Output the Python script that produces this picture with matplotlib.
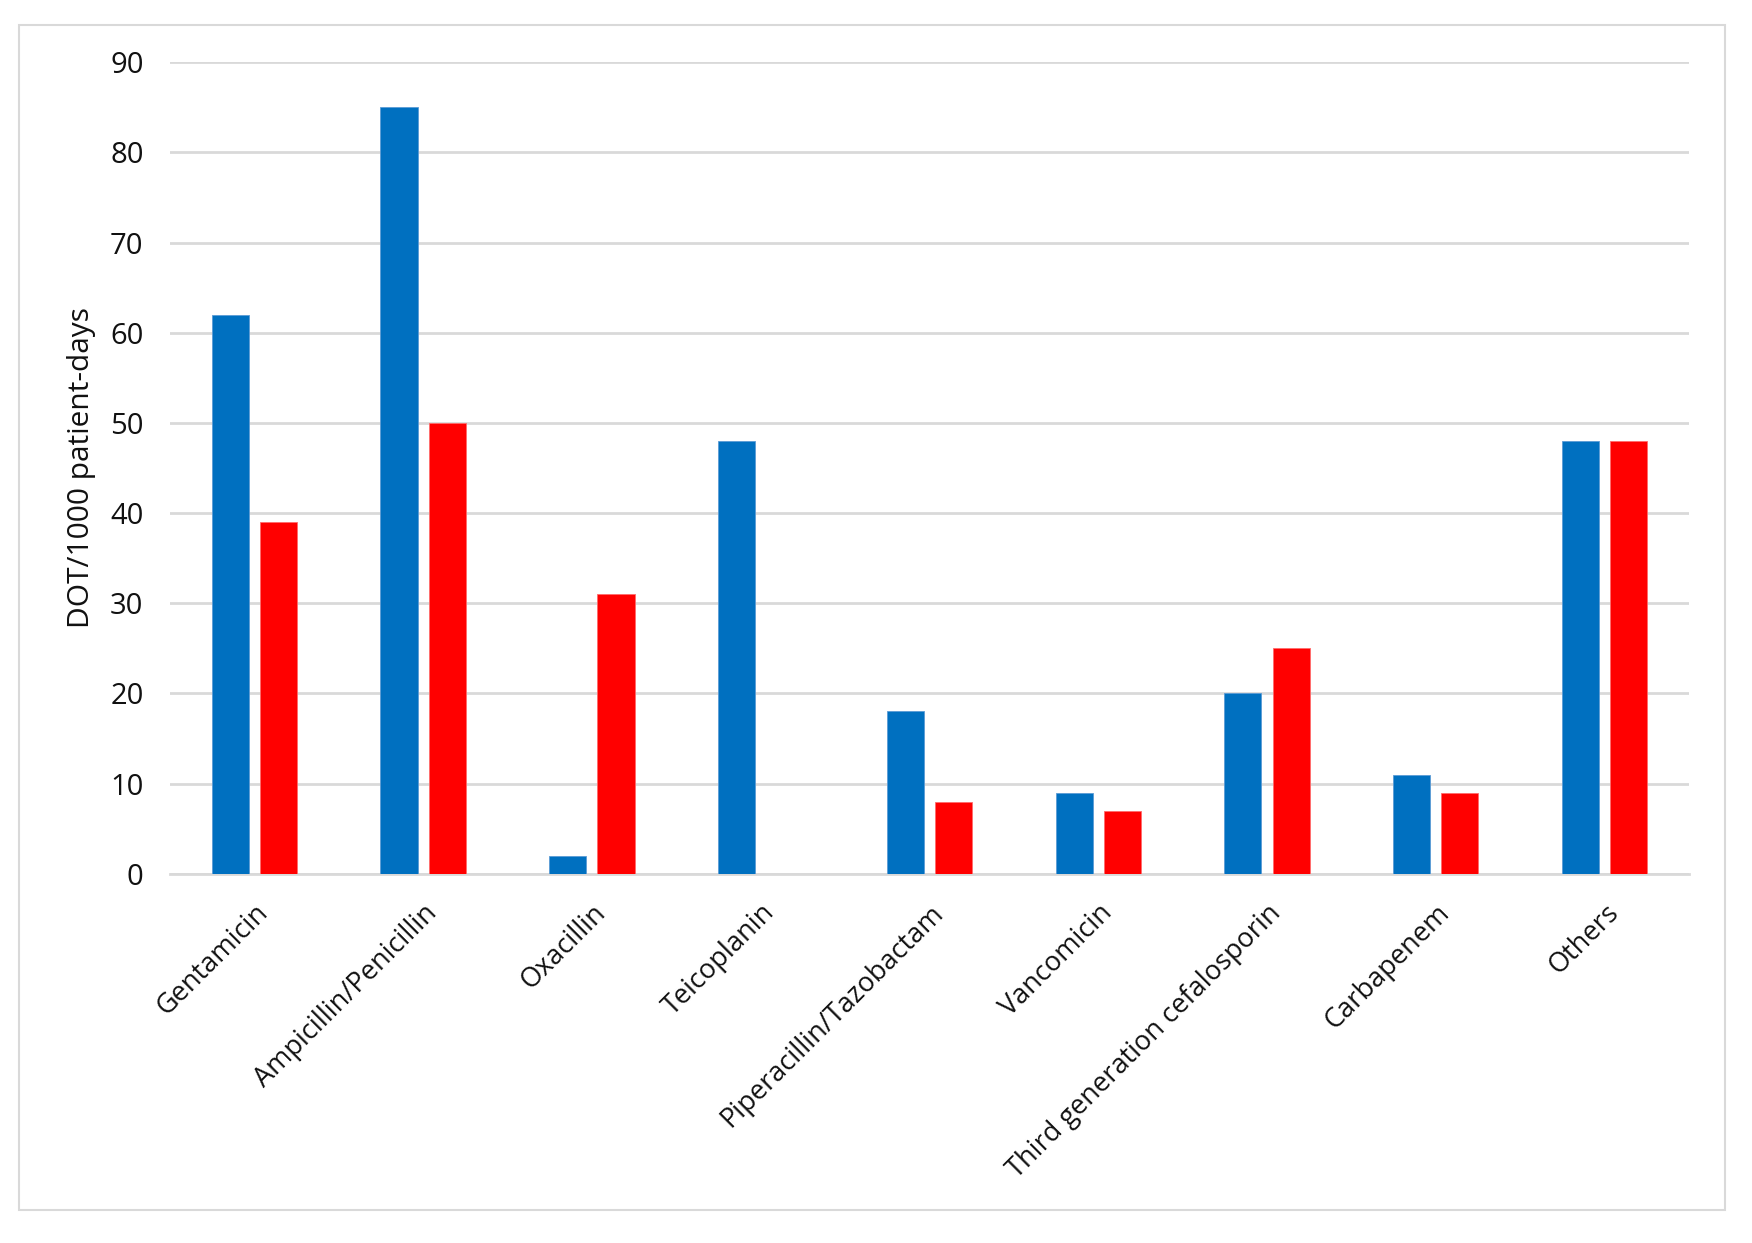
import matplotlib
matplotlib.use('Agg')
import matplotlib.pyplot as plt
from matplotlib.patches import Rectangle
import numpy as np

# Data
categories = ['Gentamicin', 'Ampicillin/Penicillin', 'Oxacillin', 'Teicoplanin',
              'Piperacillin/Tazobactam', 'Vancomicin', 'Third generation cefalosporin',
              'Carbapenem', 'Others']
blue_values = [62, 85, 2, 48, 18, 9, 20, 11, 48]
red_values = [39, 50, 31, 0, 8, 7, 25, 9, 48]
y_ticks = [0, 10, 20, 30, 40, 50, 60, 70, 80, 90]

color_blue = '#0070C0'
color_red = '#FF0000'
color_grid = '#D9D9D9'

plt.rcParams['font.family'] = ['Open Sans', 'DejaVu Sans']

fig = plt.figure(figsize=(17.52, 12.43), dpi=100)
ax = fig.add_axes([0.097, 0.297, 0.867, 0.653])

x = np.arange(len(categories))
bar_w = 0.22
offset = 0.143
ax.bar(x - offset, blue_values, bar_w, color=color_blue, edgecolor='#5B9BD5',
       linewidth=0.6, zorder=3)
ax.bar(x + offset, red_values, bar_w, color=color_red, edgecolor='#FF6B6B',
       linewidth=0.6, zorder=3)

ax.set_xlim(-0.5, len(categories) - 0.5)
ax.set_ylim(0, 90)
ax.set_yticks(y_ticks)
ax.yaxis.grid(True, color=color_grid, linewidth=2, zorder=0)
ax.set_axisbelow(True)
for s in ['top', 'right', 'left']:
    ax.spines[s].set_visible(False)
ax.spines['bottom'].set_color(color_grid)
ax.spines['bottom'].set_linewidth(2)
ax.tick_params(axis='y', length=0, pad=19, labelsize=21, labelcolor='#111111')
ax.tick_params(axis='x', length=0, pad=18, labelsize=19.5, labelcolor='#111111')

ax.set_xticks(x)
ax.set_xticklabels(categories, rotation=45, ha='right', rotation_mode='anchor')
ax.set_ylabel('DOT/1000 patient-days', fontsize=21.5, color='#111111', labelpad=10)

# Light outer frame around the chart
frame = Rectangle((0.0108, 0.0265), 0.974, 0.9535, transform=fig.transFigure,
                  fill=False, edgecolor=color_grid, linewidth=1.5)
fig.patches.append(frame)

fig.savefig('out.png', dpi=100)
plt.close(fig)
